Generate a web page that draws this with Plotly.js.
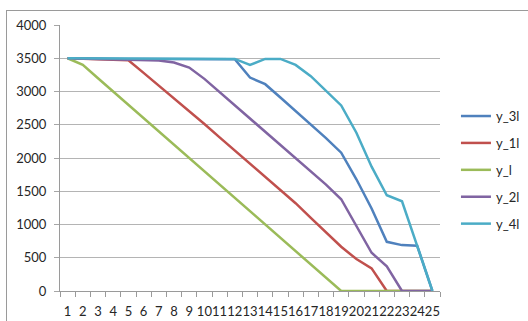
<!DOCTYPE html>
<html>
<head>
<meta charset="utf-8">
<script src="https://cdn.plot.ly/plotly-3.0.1.min.js"></script>
<style>
  html, body { margin: 0; padding: 0; background: #ffffff; }
  #wrap { position: relative; width: 528px; height: 321px; overflow: hidden; }
  #chart { position: absolute; left: 0; top: 0; width: 528px; height: 321px; }
  #frame { position: absolute; left: 6px; top: 10px; width: 600px; height: 400px;
           border-left: 1px solid #9a9a9a; border-top: 1px solid #9a9a9a; pointer-events: none; }
</style>
</head>
<body>
<div id="wrap">
  <div id="chart"></div>
  <div id="frame"></div>
</div>
<script>
// Categories (x axis)
const categories = ["1","2","3","4","5","6","7","8","9","10","11","12","13","14","15","16","17","18","19","20","21","22","23","24","25"];

// Series values
const y_3l = [3500,3495,3495,3490,3490,3490,3490,3490,3490,3490,3490,3485,3210,3110,2910,2710,2510,2300,2080,1680,1240,740,690,680,0];
const y_1l = [3500,3490,3480,3480,3470,3280,3090,2900,2710,2510,2310,2110,1910,1715,1520,1320,1100,880,665,480,340,0,0,0,0];
const y_l  = [3500,3400,3200,3000,2800,2600,2400,2200,2000,1800,1600,1400,1200,1000,800,600,400,200,0,0,0,0,0,0,0];
const y_2l = [3500,3495,3490,3485,3480,3475,3465,3435,3360,3190,2990,2790,2590,2390,2190,1990,1800,1600,1380,980,575,370,0,0,0];
const y_4l = [3500,3500,3500,3495,3495,3495,3495,3495,3495,3495,3495,3490,3400,3490,3490,3400,3230,3010,2790,2380,1870,1440,1350,680,0];

const seriesNames = ["y_3l","y_1l","y_l","y_2l","y_4l"];
const seriesData = [y_3l, y_1l, y_l, y_2l, y_4l];
const seriesColors = ["#4F81BD","#C0504D","#9BBB59","#8064A2","#4BACC6"];

// Y tick labels
const yTickVals = [0,500,1000,1500,2000,2500,3000,3500,4000];

const traces = seriesNames.map((name, i) => ({
  type: "scatter",
  mode: "lines",
  name: name,
  legendgroup: name,
  x: categories,
  y: seriesData[i],
  line: { color: seriesColors[i], width: 2.5 }
}));

const font = { family: "Lato, 'Open Sans', sans-serif", size: 13, color: "#262626" };

const layout = {
  width: 528,
  height: 321,
  margin: { l: 60, r: 88, t: 25, b: 30, autoexpand: false },
  paper_bgcolor: "rgba(0,0,0,0)",
  plot_bgcolor: "#ffffff",
  font: font,
  showlegend: true,
  legend: {
    x: 1.042, xanchor: "left",
    y: 0.714, yanchor: "top",
    font: font,
    tracegroupgap: 7,
    bgcolor: "rgba(0,0,0,0)"
  },
  xaxis: {
    type: "category",
    range: [-0.5, categories.length - 0.5],
    tickmode: "array",
    tickvals: categories,
    ticktext: categories,
    tickangle: 0,
    tickson: "boundaries",
    ticks: "outside",
    ticklen: 5,
    tickcolor: "#9a9a9a",
    ticklabelstandoff: 8,
    showline: true,
    linecolor: "#9a9a9a",
    linewidth: 1,
    showgrid: false,
    zeroline: false,
    automargin: false,
    tickfont: font
  },
  yaxis: {
    range: [0, 4000],
    tickmode: "array",
    tickvals: yTickVals,
    ticks: "outside",
    ticklen: 5,
    tickcolor: "#a6a6a6",
    ticklabelstandoff: 5,
    showline: true,
    linecolor: "#9a9a9a",
    linewidth: 1,
    showgrid: true,
    gridcolor: "#b4b4b4",
    gridwidth: 1,
    zeroline: false,
    automargin: false,
    tickfont: font
  }
};

Plotly.newPlot("chart", traces, layout, { staticPlot: true, displayModeBar: false });
</script>
</body>
</html>
